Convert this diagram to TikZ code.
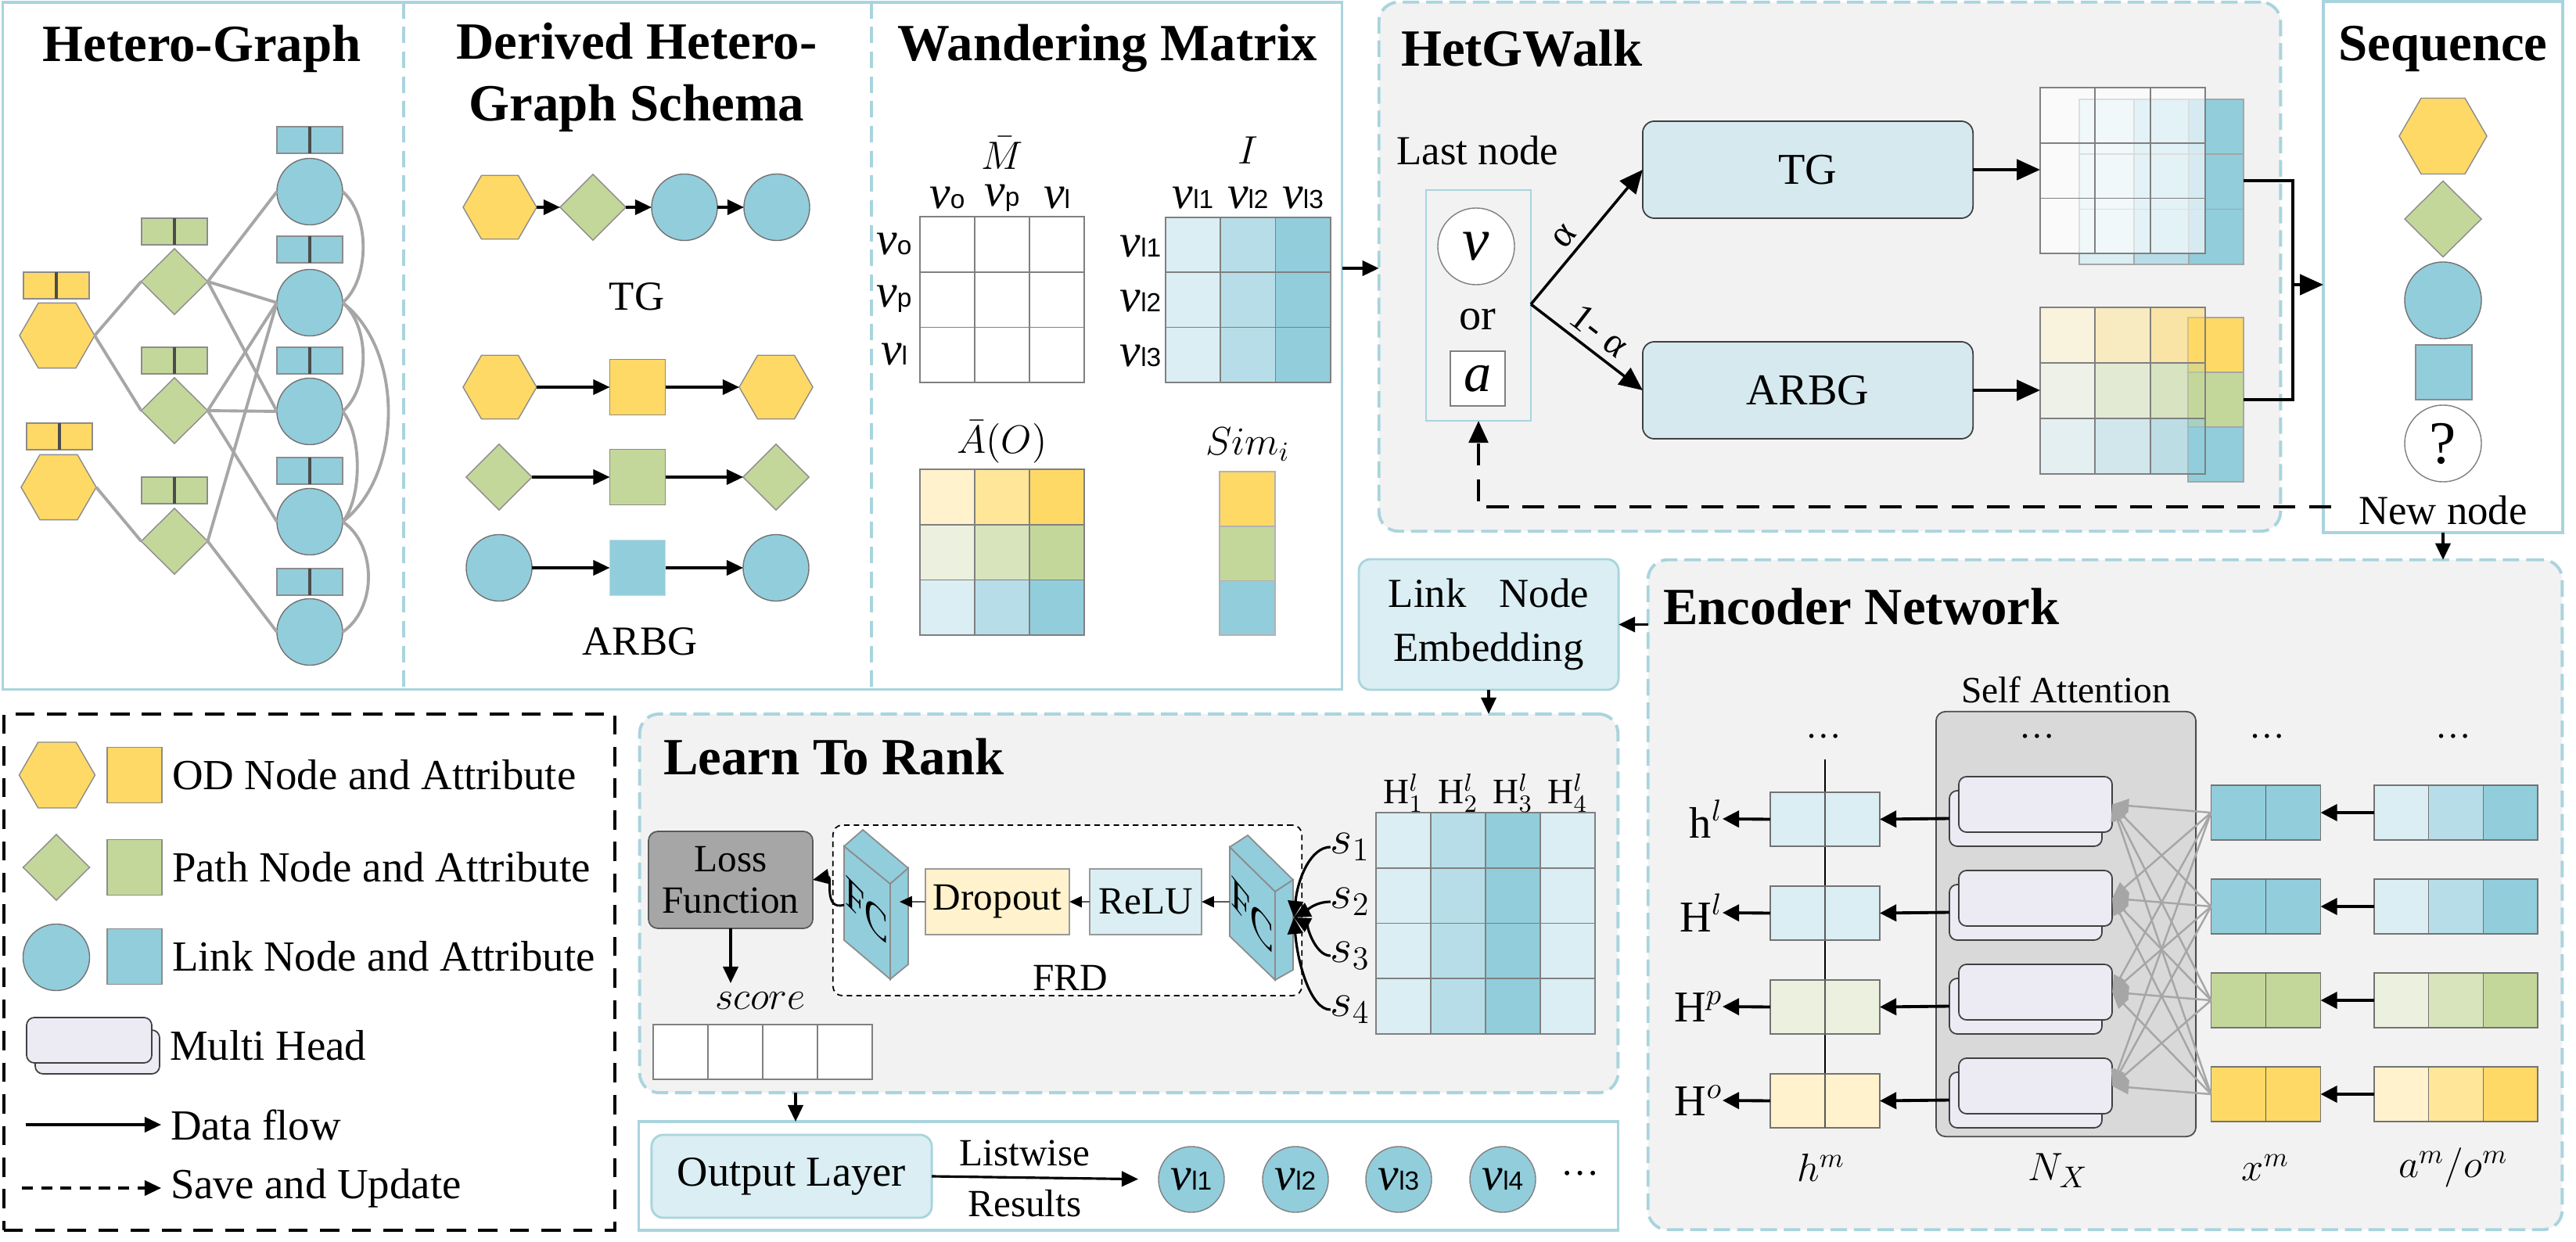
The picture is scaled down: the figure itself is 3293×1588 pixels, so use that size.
\documentclass[tikz,border=0pt]{standalone}
\usepackage{fontspec}
\setmainfont{Liberation Serif}
\setsansfont{Liberation Sans}
\usetikzlibrary{arrows.meta,shapes.geometric,calc}
\definecolor{pb}{HTML}{A9D4DE}
\definecolor{ys}{HTML}{FFD966}
\definecolor{ym}{HTML}{FFE699}
\definecolor{yl}{HTML}{FFF2CC}
\definecolor{gs}{HTML}{C4D79B}
\definecolor{gm}{HTML}{D8E4BC}
\definecolor{gl}{HTML}{EBF1DE}
\definecolor{bs}{HTML}{92CDDC}
\definecolor{bm}{HTML}{B7DEE8}
\definecolor{bl}{HTML}{DAEEF3}
\definecolor{pg}{HTML}{F2F2F2}
\definecolor{sag}{HTML}{D9D9D9}
\definecolor{lossg}{HTML}{A6A6A6}
\definecolor{mhc}{HTML}{ECEBF4}
\definecolor{tgbox}{HTML}{D5E9EF}
\definecolor{edg}{HTML}{A6A6A6}
\newcommand{\fsz}[1]{\fontsize{#1}{#1}\selectfont}
\newcommand{\vlab}[1]{{\fsz{17}\itshape ν}{\sffamily\fsz{9.5}#1}}
\newcommand{\attrbox}[4]{\node[sqr, fill=#4, minimum width=0.84cm, minimum height=0.34cm] (#1) at (#2,#3) {};
  \draw[black!70, line width=1.3pt] (#1.north) -- (#1.south);}
\tikzset{
  every node/.style={inner sep=0pt, outer sep=0pt},
  pframe/.style={draw=pb, line width=1pt},
  dframe/.style={draw=pb, line width=1.1pt, dash pattern=on 6pt off 2.5pt, fill=pg, rounded corners=0.25cm},
  hexa/.style={regular polygon, regular polygon sides=6, draw=black!45, line width=0.4pt, fill=ys, minimum size=#1},
  dia/.style={diamond, draw=black!45, line width=0.4pt, fill=gs},
  circ/.style={ellipse, draw=black!55, line width=0.4pt, fill=bs},
  sqr/.style={rectangle, draw=black!45, line width=0.4pt},
  gedge/.style={draw=edg, line width=1.1pt},
  arr/.style={-{Triangle[length=6pt,width=5.5pt]}, line width=0.9pt},
  bigarr/.style={-{Triangle[length=8.5pt,width=7.5pt]}, line width=1pt},
  encarr/.style={-{Triangle[length=6pt,width=6pt]}, line width=1.1pt},
  smarr/.style={draw=black!65, line width=0.7pt, -{Triangle[length=4.5pt,width=4pt,color=black,fill=black]}},
  attn/.style={draw=edg, line width=0.7pt, -{Triangle[length=6pt,width=5pt]}},
  ttl/.style={font=\bfseries\fontsize{19}{22.5}\selectfont, align=center},
  cellg/.style={draw=black!50, line width=0.5pt},
  mhead/.style={draw=black!75, line width=0.5pt, fill=mhc, rounded corners=0.1cm},
  fcface/.style={fill=bs, draw=black!45, line width=0.5pt},
}
\begin{document}
\begin{tikzpicture}[x=0.01cm,y=-0.01cm]
\useasboundingbox (0,0) rectangle (3293,1588);
% ---------- panels
\node[pframe, fill=white, minimum width=17.11cm, minimum height=8.78cm] (topP) at (859.5,442) {};
\node[dframe, minimum width=11.52cm, minimum height=6.76cm] (hgw) at (2339,341) {};
\node[pframe, fill=white, minimum width=3.06cm, minimum height=6.79cm] (seqP) at (3123,341.5) {};
\node[dframe, minimum width=11.68cm, minimum height=8.56cm] (enc) at (2691,1144) {};
\node[dframe, minimum width=12.50cm, minimum height=4.84cm] (ltr) at (1443,1155) {};
\node[pframe, fill=white, minimum width=12.51cm, minimum height=1.39cm] (outP) at (1442.5,1503.5) {};
\node[draw=black, line width=1.2pt, dash pattern=on 7pt off 4.5pt, minimum width=7.81cm, minimum height=6.60cm] (leg) at (395.5,1243) {};
\coordinate (dv1) at (516,0);
\coordinate (dv2) at (1114,0);
\draw[draw=pb, line width=1pt, dash pattern=on 6pt off 3pt] (topP.north -| dv1) -- (topP.south -| dv1);
\draw[draw=pb, line width=1pt, dash pattern=on 6pt off 3pt] (topP.north -| dv2) -- (topP.south -| dv2);
% ---------- titles
\node[ttl] (t1) at (258,62) {Hetero-Graph};
\node[ttl] (t2) at (814,99) {Derived Hetero-\\Graph Schema};
\node[ttl] (t3) at (1416,62) {Wandering Matrix};
\node[ttl, anchor=west] (t4) at (1791,62) {HetGWalk};
\node[ttl] (t5) at (3123,62) {Sequence};
\node[ttl, anchor=west] (t6) at (848,968) {Learn To Rank};
\node[ttl, anchor=west] (t7) at (2126,776) {Encoder Network};
% ---------- Hetero-Graph
\node[hexa=0.96cm] (hA) at (73,429) {};
\node[hexa=0.96cm] (hB) at (75,623) {};
\node[dia, minimum width=0.85cm, minimum height=0.84cm] (dA) at (223,360) {};
\node[dia, minimum width=0.85cm, minimum height=0.84cm] (dB) at (223,525) {};
\node[dia, minimum width=0.85cm, minimum height=0.84cm] (dC) at (223,692) {};
\foreach \n/\y in {1/245,2/387,3/526,4/667,5/808}
  \node[circ, minimum width=0.84cm, minimum height=0.85cm] (c\n) at (396,\y) {};
\draw[gedge] (hA.east) -- (dA.west);
\draw[gedge] (hA.east) -- (dB.west);
\draw[gedge] (hB.east) -- (dC.west);
\draw[gedge] (dA.east) -- (c1.west);
\draw[gedge] (dA.east) -- (c2.west);
\draw[gedge] (dA.east) -- (c3.west);
\draw[gedge] (dB.east) -- (c2.west);
\draw[gedge] (dB.east) -- (c3.west);
\draw[gedge] (dB.east) -- (c4.west);
\draw[gedge] (dC.east) -- (c2.west);
\draw[gedge] (dC.east) -- (c5.west);
\draw[gedge] (c1.east) .. controls +(35,30) and +(35,-30) .. (c2.east);
\draw[gedge] (c2.east) .. controls +(35,30) and +(35,-30) .. (c3.east);
\draw[gedge] (c2.east) .. controls +(78,60) and +(78,-60) .. (c4.east);
\draw[gedge] (c3.east) .. controls +(25,30) and +(25,-30) .. (c4.east);
\draw[gedge] (c4.east) .. controls +(44,30) and +(44,-30) .. (c5.east);
\attrbox{aA}{72}{365}{ys}
\attrbox{aB}{76}{558}{ys}
\attrbox{adA}{223}{296}{gs}
\attrbox{adB}{223}{461}{gs}
\attrbox{adC}{223}{627}{gs}
\attrbox{ac1}{396}{179}{bs}
\attrbox{ac2}{396}{319}{bs}
\attrbox{ac3}{396}{461}{bs}
\attrbox{ac4}{396}{602}{bs}
\attrbox{ac5}{396}{744}{bs}
% ---------- Derived schema
\node[hexa=0.94cm] (sa1) at (639,265) {};
\node[dia, minimum width=0.84cm, minimum height=0.84cm] (sa2) at (758,265) {};
\node[circ, minimum width=0.84cm, minimum height=0.85cm] (sa3) at (875,265) {};
\node[circ, minimum width=0.84cm, minimum height=0.85cm] (sa4) at (993,265) {};
\draw[arr] (sa1) -- (sa2);
\draw[arr] (sa2) -- (sa3);
\draw[arr] (sa3) -- (sa4);
\node[font=\fsz{15}] (tgl) at (814,379) {TG};
\node[hexa=0.94cm] (r1a) at (639,495) {};
\node[sqr, fill=ys, minimum size=0.71cm] (r1b) at (815,495) {};
\node[hexa=0.94cm] (r1c) at (992,495) {};
\node[dia, minimum width=0.84cm, minimum height=0.84cm] (r2a) at (638,610) {};
\node[sqr, fill=gs, minimum size=0.71cm] (r2b) at (815,610) {};
\node[dia, minimum width=0.84cm, minimum height=0.84cm] (r2c) at (992,610) {};
\node[circ, minimum width=0.84cm, minimum height=0.85cm] (r3a) at (638,726) {};
\node[sqr, draw=bs!80!black!40, fill=bs, minimum size=0.71cm] (r3b) at (815,726) {};
\node[circ, minimum width=0.84cm, minimum height=0.85cm] (r3c) at (992,726) {};
\foreach \r in {1,2,3} {
  \draw[arr] (r\r a) -- (r\r b);
  \draw[arr] (r\r b) -- (r\r c);
}
\node[font=\fsz{15}] (arbgl) at (818,820) {ARBG};
% ---------- Wandering matrix
\node[font=\fsz{14}] (mbar) at (1281,196) {$\bar{M}$};
\foreach \i/\lt in {0/o,1/p,2/l} {
  \node (mc\i) at ({1211+70*\i},253) {\vlab{\lt}};
  \node (mr\i) at (1143,{312+70.7*\i}) {\vlab{\lt}};
}
\foreach \i in {0,1,2} \foreach \j in {0,1,2}
  \draw[cellg, fill=white] ({1176+70*\i},{277+70.7*\j}) rectangle +(70,70.7);
\node[font=\fsz{14}] (ilab) at (1595,192) {$I$};
\foreach \i/\lt in {0/l1,1/l2,2/l3} {
  \node (ic\i) at ({1525+70.3*\i},253) {\vlab{\lt}};
  \node (ir\i) at (1458,{315+70*\i}) {\vlab{\lt}};
}
\foreach \i/\c in {0/bl,1/bm,2/bs} \foreach \j in {0,1,2}
  \draw[cellg, fill=\c] ({1490+70.3*\i},{278+70.3*\j}) rectangle +(70.3,70.3);
\node[font=\fsz{14}] (alab) at (1281,565) {$\bar{A}(O)$};
\foreach \j/\ca/\cb/\cc in {0/yl/ym/ys,1/gl/gm/gs,2/bl/bm/bs} {
  \draw[cellg, fill=\ca] (1176,{600+70.7*\j}) rectangle +(70,70.7);
  \draw[cellg, fill=\cb] (1246,{600+70.7*\j}) rectangle +(70,70.7);
  \draw[cellg, fill=\cc] (1316,{600+70.7*\j}) rectangle +(70,70.7);
}
\node[font=\fsz{14}] (simlab) at (1595,568) {$Sim_i$};
\foreach \j/\c in {0/ys,1/gs,2/bs}
  \draw[cellg, draw=black!30, fill=\c] (1559,{603+69.7*\j}) rectangle +(71,69.7);
\coordinate (yarr) at (0,343);
\draw[arr] (topP.east |- yarr) -- (hgw.west |- yarr);
% ---------- HetGWalk
\node[font=\fsz{15}] (last) at (1889,192) {Last node};
\node[draw=pb, line width=0.8pt, minimum width=1.34cm, minimum height=2.95cm] (inner) at (1890,390.5) {};
\node[circle, draw=black!50, line width=0.4pt, fill=white, minimum size=0.98cm, font=\fsz{22}\itshape] (vc) at (1887,315) {v};
\node[font=\fsz{16}] (orl) at (1889,409) {or};
\node[draw=black!50, line width=0.4pt, fill=white, minimum size=0.70cm, font=\fsz{20}\itshape] (asq) at (1889,484) {a};
\coordinate (br) at (1957,389);
\node[rounded corners=0.15cm, draw=black!75, line width=0.5pt, fill=tgbox, minimum width=4.22cm, minimum height=1.24cm, font=\fsz{16}] (tgb) at (2311,217) {TG};
\node[rounded corners=0.15cm, draw=black!75, line width=0.5pt, fill=tgbox, minimum width=4.22cm, minimum height=1.24cm, font=\fsz{16}] (arb) at (2311,499) {ARBG};
\draw[bigarr] (br) -- (tgb.west) node[pos=0.42, sloped, above=3pt, font=\fsz{14}] (alph) {α};
\draw[bigarr] (br) -- (arb.west) node[pos=0.5, sloped, above=3pt, font=\fsz{14}] (alph2) {1- α};
% stacks
\node[minimum width=2.11cm, minimum height=2.12cm] (stk1) at (2713.5,218) {};
\foreach \i/\c in {0/bl,1/bm,2/bs} \foreach \j in {0,1,2}
  \draw[cellg, draw=black!35, fill=\c] ({2658+70*\i},{127+70.3*\j}) rectangle +(70,70.3);
\foreach \i in {0,1,2} \foreach \j in {0,1,2}
  \draw[cellg, fill=white, fill opacity=0.62] ({2608+70.3*\i},{112+70.7*\j}) rectangle +(70.3,70.7);
\node[minimum width=2.11cm, minimum height=2.13cm] (stk2) at (2713.5,499.5) {};
\foreach \j/\c in {0/ys,1/gs,2/bs}
  \draw[cellg, draw=black!35, fill=\c] (2797,{406+70*\j}) rectangle +(71,70);
\foreach \j/\ca/\cb/\cc in {0/yl/ym/ys,1/gl/gm/gs,2/bl/bm/bs} {
  \draw[cellg, fill=\ca, fill opacity=0.55] (2608,{393+71*\j}) rectangle +(70.3,71);
  \draw[cellg, fill=\cb, fill opacity=0.55] (2678.3,{393+71*\j}) rectangle +(70.3,71);
  \draw[cellg, fill=\cc, fill opacity=0.55] (2748.6,{393+71*\j}) rectangle +(70.4,71);
}
\draw[bigarr] (tgb.east) -- (stk1.west |- tgb.east);
\draw[bigarr] (arb.east) -- (stk2.west |- arb.east);
\coordinate (j1) at (2868,231);
\coordinate (j2) at (2868,511);
\coordinate (jm) at (2931,364);
\draw[line width=1.2pt] (j1) -| (jm) |- (j2);
\draw[bigarr] (jm) -- (seqP.west |- jm);
% ---------- Sequence
\node[hexa=1.12cm] (q1) at (3123,174) {};
\node[dia, minimum width=0.98cm, minimum height=0.97cm] (q2) at (3123,280) {};
\node[circ, minimum width=0.98cm, minimum height=0.98cm] (q3) at (3123,384) {};
\node[sqr, fill=bs, minimum width=0.72cm, minimum height=0.70cm] (q4) at (3124,476) {};
\node[ellipse, draw=black!50, line width=0.4pt, fill=white, minimum width=0.98cm, minimum height=0.98cm, font=\fsz{22}] (q5) at (3123,567) {?};
\node[font=\fsz{15}] (newn) at (3123,652) {New node};
\coordinate (dstart) at (2980,648);
\draw[line width=1.2pt, dash pattern=on 8pt off 5pt, -{Triangle[length=8pt,width=7pt]}] (dstart) -| (inner.south);
\draw[arr] (seqP.south) -- (seqP.south |- enc.north);
% ---------- Link node embedding
\node[draw=pb, line width=0.8pt, fill=bl, rounded corners=0.15cm, minimum width=3.32cm, minimum height=1.67cm, align=center, font=\fontsize{15}{19.5}\selectfont] (lne) at (1903,798.5) {Link\hspace{0.8em}Node\\Embedding};
\draw[arr] (enc.west |- lne.east) -- (lne.east);
\draw[arr] (lne.south) -- (lne.south |- ltr.north);
% ---------- Encoder network
\node[font=\fsz{13.5}] (sal) at (2641,882) {Self Attention};
\node[draw=black!70, line width=0.5pt, fill=sag, rounded corners=0.12cm, minimum width=3.32cm, minimum height=5.43cm] (sab) at (2641,1181.5) {};
\foreach \x/\n in {2331/1,2604/2,2898/3,3136/4}
  \node[font=\fsz{13}] (dots\n) at (\x,941) {\ldots};
\coordinate (vtop) at (2333,971);
\coordinate (vbot) at (2333,1373);
\draw[line width=0.6pt] (vtop) -- (vbot);
\foreach \k/\hc/\xc/\ca/\cb/\cc/\lab in {0/bl/bs/bl/bm/bs/{$\mathrm{h}^{l}$},1/bl/bs/bl/bm/bs/{$\mathrm{H}^{l}$},2/gl/gs/gl/gm/gs/{$\mathrm{H}^{p}$},3/yl/ys/yl/ym/ys/{$\mathrm{H}^{o}$}}{
  \node[mhead, minimum width=1.95cm, minimum height=0.71cm] (mhb\k) at (2589.5,{1046.5+120*\k}) {};
  \node[mhead, minimum width=1.96cm, minimum height=0.71cm] (mhf\k) at (2602,{1028.5+120*\k}) {};
  \node[sqr, draw=black!55, fill=\hc, minimum width=1.40cm, minimum height=0.69cm] (hb\k) at (2333,{1047.5+120*\k}) {};
  \draw[black!65, line width=0.5pt] (hb\k.north) -- (hb\k.south);
  \node[font=\fsz{16}, anchor=east] (hl\k) at (2202,{1047+120*\k}) {\lab};
  \draw[encarr] (hb\k.west) -- (hl\k.east);
  \draw[encarr] (mhb\k.west) -- (hb\k.east);
  \node[sqr, draw=black!55, fill=\xc, minimum width=1.40cm, minimum height=0.70cm] (xb\k) at (2896.5,{1039+120*\k}) {};
  \draw[black!65, line width=0.5pt] (xb\k.north) -- (xb\k.south);
  \node[minimum width=2.09cm, minimum height=0.70cm] (ab\k) at (3139.5,{1039+120*\k}) {};
  \draw[draw=black!55, line width=0.4pt, fill=\ca] (ab\k.north west) rectangle ++(69.7,70);
  \draw[draw=black!55, line width=0.4pt, fill=\cb] ($(ab\k.north west)+(69.7,0)$) rectangle ++(69.7,70);
  \draw[draw=black!55, line width=0.4pt, fill=\cc] ($(ab\k.north west)+(139.4,0)$) rectangle ++(69.6,70);
  \draw[encarr] (ab\k.west) -- (xb\k.east);
}
\foreach \i in {0,...,3} \foreach \j in {0,...,3}
  \draw[attn] (xb\i.west) -- (mhf\j.east);
\node[font=\fsz{14}] (lhm) at (2328,1493) {$h^m$};
\node[font=\fsz{15}] (lnx) at (2631,1497) {$N_X$};
\node[font=\fsz{14}] (lxm) at (2896,1493) {$x^m$};
\node[font=\fsz{14}] (lam) at (3136,1493) {$a^m/o^m$};
% ---------- Learn to rank
\foreach \i/\c/\n in {0/bl/1,1/bm/2,2/bs/3,3/bl/4} {
  \foreach \j in {0,...,3}
    \draw[cellg, fill=\c] ({1759+70*\i},{1039+70.75*\j}) rectangle +(70,70.75);
  \node[font=\fsz{13}] (Hl\n) at ({1794+70*\i},1014) {$\mathrm{H}^{l}_{\n}$};
}
\node[draw=black, line width=0.5pt, dash pattern=on 2pt off 1.5pt, fill=white, rounded corners=0.12cm, minimum width=5.99cm, minimum height=2.18cm] (frd) at (1364.5,1164) {};
\node[font=\fsz{14}] (frdl) at (1368,1250) {FRD};
% FC right
\filldraw[fcface] (1572,1083) -- (1630,1140) -- (1630,1253) -- (1572,1197) -- cycle;
\filldraw[fcface] (1572,1083) -- (1595,1068) -- (1653,1125) -- (1630,1140) -- cycle;
\filldraw[fcface] (1630,1140) -- (1653,1125) -- (1653,1240) -- (1630,1253) -- cycle;
\node[font=\fsz{16}, xscale=0.8, yslant=-0.98] (fc2t) at (1601,1170) {FC};
% FC left
\filldraw[fcface] (1079,1082) -- (1138,1130) -- (1138,1252) -- (1079,1202) -- cycle;
\filldraw[fcface] (1079,1082) -- (1103,1061) -- (1161,1110) -- (1138,1130) -- cycle;
\filldraw[fcface] (1138,1130) -- (1161,1110) -- (1161,1233) -- (1138,1252) -- cycle;
\node[font=\fsz{16}, xscale=0.8, yslant=-0.81] (fc1t) at (1108,1164) {FC};
\coordinate (fc2in) at (1654,1173);
\coordinate (fc2out) at (1572,1153);
\coordinate (fc1in) at (1150,1153);
\coordinate (fc1out) at (1079,1157);
\node[draw=black!40, line width=0.5pt, fill=bl, minimum width=1.43cm, minimum height=0.84cm, font=\fsz{14}] (relu) at (1464.5,1153) {ReLU};
\node[draw=black!40, line width=0.5pt, fill=yl, minimum width=1.84cm, minimum height=0.84cm, font=\fsz{14}] (drop) at (1275,1153) {Dropout};
\draw[smarr] (fc2out) -- (relu.east);
\draw[smarr] (relu.west) -- (drop.east);
\draw[smarr] (drop.west) -- (fc1in);
\foreach \n/\y in {1/1083,2/1153,3/1222,4/1291}
  \node[font=\fsz{18}] (sl\n) at (1726,\y) {$s_{\n}$};
\draw[arr] (sl1.west) .. controls +(-25,0) and +(5,-50) .. (fc2in);
\draw[arr] (sl2.west) .. controls +(-20,0) and +(15,-8) .. (fc2in);
\draw[arr] (sl3.west) .. controls +(-20,0) and +(15,8) .. (fc2in);
\draw[arr] (sl4.west) .. controls +(-25,0) and +(5,60) .. (fc2in);
\node[draw=black!65, line width=0.5pt, fill=lossg, rounded corners=0.12cm, minimum width=2.10cm, minimum height=1.24cm, align=center, font=\fontsize{14}{15}\selectfont] (loss) at (934,1125) {Loss\\Function};
\draw[arr, line width=0.8pt] (fc1out) .. controls (1052,1165) and (1064,1120) .. (loss.east);
\node[font=\fsz{15.5}] (scl) at (972,1280) {$score$};
\coordinate (scarr) at (934,1257);
\draw[arr] (loss.south) -- (scarr);
\node[minimum width=2.80cm, minimum height=0.70cm] (scb) at (975,1345) {};
\foreach \i in {0,...,3}
  \draw[cellg, fill=white] ({835+70*\i},1310) rectangle +(70,70);
\coordinate (ltrx) at (1017,0);
\draw[arr] (ltr.south -| ltrx) -- (outP.north -| ltrx);
% ---------- Output
\node[draw=pb, line width=0.8pt, fill=bl, rounded corners=0.15cm, minimum width=3.58cm, minimum height=1.06cm, font=\fsz{15.5}] (ol) at (1012,1504) {Output Layer};
\foreach \n/\x in {1/1523,2/1656,3/1788,4/1921}
  \node[circle, draw=black!50, line width=0.4pt, fill=bs, minimum size=0.84cm] (o\n) at (\x,1508) {\vlab{l\n}};
\draw[arr, shorten >=0.26cm] (ol.east) -- (o1.west);
\node[font=\fsz{14}] (lw1) at (1310,1474) {Listwise};
\node[font=\fsz{14}] (lw2) at (1310,1539) {Results};
\node[font=\fsz{14}] (odots) at (2020,1500) {\ldots};
% ---------- Legend
\node[hexa=0.97cm] (lg1) at (73,991) {};
\node[sqr, fill=ys, minimum width=0.70cm, minimum height=0.71cm] (lg1s) at (172,991) {};
\node[anchor=west, font=\fsz{15.6}] (lg1t) at (220,991) {OD Node and Attribute};
\node[dia, minimum width=0.85cm, minimum height=0.84cm] (lg2) at (72,1109) {};
\node[sqr, fill=gs, minimum width=0.70cm, minimum height=0.71cm] (lg2s) at (172,1109) {};
\node[anchor=west, font=\fsz{15.6}] (lg2t) at (220,1109) {Path Node and Attribute};
\node[circ, minimum width=0.85cm, minimum height=0.85cm] (lg3) at (72,1224) {};
\node[sqr, fill=bs, minimum width=0.70cm, minimum height=0.71cm] (lg3s) at (172,1223) {};
\node[anchor=west, font=\fsz{15.6}] (lg3t) at (220,1223) {Link Node and Attribute};
\node[mhead, minimum width=1.59cm, minimum height=0.56cm] (lg4b) at (124.5,1345) {};
\node[mhead, minimum width=1.60cm, minimum height=0.58cm] (lg4f) at (114,1330) {};
\node[anchor=west, font=\fsz{15.6}] (lg4t) at (217,1337) {Multi Head};
\coordinate (lg5a) at (33,1438);
\node[anchor=west, font=\fsz{15.6}] (lg5t) at (218,1438) {Data flow};
\draw[arr, shorten >=0.12cm] (lg5a) -- (lg5t.west);
\coordinate (lg6a) at (28,1519);
\node[anchor=west, font=\fsz{15.6}] (lg6t) at (218,1519) {Save and Update};
\draw[arr, dash pattern=on 4pt off 3pt, shorten >=0.12cm] (lg6a) -- (lg6t.west);
\end{tikzpicture}
\end{document}
